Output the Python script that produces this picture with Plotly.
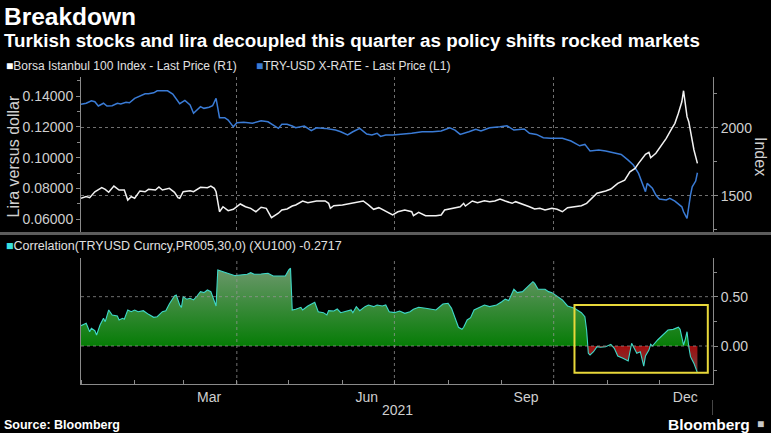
import plotly.graph_objects as go

# ---------------- data ----------------
LIRA_DATES = [
    "2021-01-01", "2021-01-04", "2021-01-07", "2021-01-09", "2021-01-11", "2021-01-14", "2021-01-16",
    "2021-01-19", "2021-01-22", "2021-01-24", "2021-01-27", "2021-01-29", "2021-02-01", "2021-02-04",
    "2021-02-07", "2021-02-09", "2021-02-12", "2021-02-14", "2021-02-20", "2021-02-23", "2021-02-25",
    "2021-02-27", "2021-03-02", "2021-03-05", "2021-03-07", "2021-03-11", "2021-03-13", "2021-03-16",
    "2021-03-18", "2021-03-20", "2021-03-22", "2021-03-25", "2021-03-27", "2021-03-30", "2021-04-01",
    "2021-04-05", "2021-04-10", "2021-04-15", "2021-04-19", "2021-04-22", "2021-04-25", "2021-04-27",
    "2021-04-30", "2021-05-03", "2021-05-05", "2021-05-10", "2021-05-14", "2021-05-17", "2021-05-22",
    "2021-05-28", "2021-05-31", "2021-06-04", "2021-06-07", "2021-06-11", "2021-06-15", "2021-06-18",
    "2021-06-21", "2021-06-23", "2021-06-26", "2021-06-30", "2021-07-05", "2021-07-11", "2021-07-17",
    "2021-07-23", "2021-07-28", "2021-08-02", "2021-08-05", "2021-08-08", "2021-08-13", "2021-08-17",
    "2021-08-20", "2021-08-25", "2021-08-31", "2021-09-04", "2021-09-08", "2021-09-14", "2021-09-17",
    "2021-09-21", "2021-09-25", "2021-09-29", "2021-10-06", "2021-10-11", "2021-10-16", "2021-10-19",
    "2021-10-22", "2021-10-27", "2021-10-31", "2021-11-05", "2021-11-09", "2021-11-13", "2021-11-16",
    "2021-11-19", "2021-11-23", "2021-11-24", "2021-11-27", "2021-11-29", "2021-12-01", "2021-12-05",
    "2021-12-07", "2021-12-10", "2021-12-14", "2021-12-15", "2021-12-17", "2021-12-19", "2021-12-20",
    "2021-12-22", "2021-12-23",
]
LIRA_VALUES = [
    0.1346, 0.1353, 0.1369, 0.1363, 0.1335, 0.1353, 0.1335,
    0.1337, 0.1353, 0.1348, 0.1359, 0.1356, 0.1385, 0.1402,
    0.1415, 0.1415, 0.1421, 0.1434, 0.1434, 0.1413, 0.1385,
    0.1350, 0.1372, 0.1342, 0.1288, 0.1331, 0.1320, 0.1327,
    0.1337, 0.1385, 0.1259, 0.1259, 0.1244, 0.1200, 0.1227,
    0.1229, 0.1223, 0.1240, 0.1233, 0.1212, 0.1190, 0.1216,
    0.1216, 0.1205, 0.1194, 0.1205, 0.1175, 0.1194, 0.1190,
    0.1179, 0.1168, 0.1147, 0.1168, 0.1190, 0.1153, 0.1147,
    0.1158, 0.1138, 0.1147, 0.1147, 0.1151, 0.1158, 0.1168,
    0.1168, 0.1173, 0.1194, 0.1179, 0.1151, 0.1168, 0.1184,
    0.1173, 0.1194, 0.1200, 0.1207, 0.1179, 0.1186, 0.1158,
    0.1151, 0.1129, 0.1126, 0.1126, 0.1108, 0.1077, 0.1086,
    0.1043, 0.1049, 0.1043, 0.1028, 0.1021, 0.0984, 0.0952,
    0.0898, 0.0779, 0.0833, 0.0801, 0.0757, 0.0731, 0.0725,
    0.0736, 0.0718, 0.0681, 0.0649, 0.0606, 0.0757, 0.0811,
    0.0848, 0.0902,
]

BIST_DATES = [
    "2021-01-01", "2021-01-04", "2021-01-06", "2021-01-09", "2021-01-13", "2021-01-15", "2021-01-17",
    "2021-01-20", "2021-01-23", "2021-01-26", "2021-01-28", "2021-01-30", "2021-02-01", "2021-02-04",
    "2021-02-07", "2021-02-09", "2021-02-13", "2021-02-15", "2021-02-17", "2021-02-21", "2021-02-24",
    "2021-02-26", "2021-02-27", "2021-03-01", "2021-03-05", "2021-03-07", "2021-03-11", "2021-03-15",
    "2021-03-17", "2021-03-19", "2021-03-20", "2021-03-22", "2021-03-24", "2021-03-27", "2021-03-30",
    "2021-04-03", "2021-04-06", "2021-04-09", "2021-04-12", "2021-04-15", "2021-04-18", "2021-04-21",
    "2021-04-25", "2021-04-27", "2021-04-30", "2021-05-03", "2021-05-05", "2021-05-09", "2021-05-12",
    "2021-05-17", "2021-05-22", "2021-05-24", "2021-05-25", "2021-05-27", "2021-06-01", "2021-06-06",
    "2021-06-09", "2021-06-13", "2021-06-16", "2021-06-19", "2021-06-22", "2021-06-26", "2021-06-30",
    "2021-07-03", "2021-07-07", "2021-07-11", "2021-07-12", "2021-07-15", "2021-07-19", "2021-07-25",
    "2021-07-28", "2021-07-30", "2021-08-04", "2021-08-08", "2021-08-10", "2021-08-11", "2021-08-15",
    "2021-08-18", "2021-08-22", "2021-08-25", "2021-08-28", "2021-08-31", "2021-09-03", "2021-09-07",
    "2021-09-09", "2021-09-13", "2021-09-17", "2021-09-20", "2021-09-23", "2021-09-26", "2021-09-30",
    "2021-10-03", "2021-10-06", "2021-10-09", "2021-10-13", "2021-10-17", "2021-10-20", "2021-10-23",
    "2021-10-26", "2021-10-31", "2021-11-03", "2021-11-07", "2021-11-11", "2021-11-14", "2021-11-17",
    "2021-11-19", "2021-11-23", "2021-11-25", "2021-11-26", "2021-11-29", "2021-12-02", "2021-12-05",
    "2021-12-08", "2021-12-10", "2021-12-12", "2021-12-13", "2021-12-14", "2021-12-15", "2021-12-16",
    "2021-12-17", "2021-12-18", "2021-12-20", "2021-12-21", "2021-12-23",
]
BIST_VALUES = [
    1481, 1493, 1485, 1529, 1559, 1547, 1525,
    1571, 1542, 1542, 1468, 1493, 1481, 1535,
    1529, 1547, 1542, 1564, 1542, 1554, 1525,
    1485, 1481, 1529, 1537, 1529, 1562, 1559,
    1571, 1554, 1529, 1382, 1419, 1390, 1400,
    1439, 1419, 1407, 1382, 1415, 1407, 1338,
    1371, 1395, 1402, 1424, 1432, 1461, 1449,
    1461, 1461, 1444, 1407, 1426, 1432, 1444,
    1456, 1461, 1432, 1400, 1412, 1387, 1358,
    1382, 1395, 1382, 1353, 1378, 1353, 1353,
    1358, 1395, 1407, 1419, 1444, 1424, 1461,
    1449, 1463, 1456, 1461, 1476, 1461, 1444,
    1456, 1439, 1419, 1402, 1407, 1395, 1407,
    1400, 1382, 1412, 1419, 1426, 1444, 1481,
    1518, 1535, 1549, 1591, 1615, 1676, 1701,
    1738, 1804, 1819, 1779, 1812, 1868, 1922,
    1990, 2032, 2106, 2154, 2191, 2272, 2174,
    2081, 2044, 1910, 1836, 1738,
]

CORR_DATES = [
    "2021-01-01", "2021-01-04", "2021-01-06", "2021-01-07", "2021-01-09", "2021-01-10", "2021-01-12",
    "2021-01-14", "2021-01-15", "2021-01-17", "2021-01-19", "2021-01-22", "2021-01-23", "2021-01-25",
    "2021-01-26", "2021-01-28", "2021-01-30", "2021-02-01", "2021-02-03", "2021-02-06", "2021-02-09",
    "2021-02-12", "2021-02-14", "2021-02-17", "2021-02-19", "2021-02-21", "2021-02-24", "2021-02-25",
    "2021-02-27", "2021-02-28", "2021-03-01", "2021-03-03", "2021-03-05", "2021-03-07", "2021-03-09",
    "2021-03-11", "2021-03-13", "2021-03-15", "2021-03-17", "2021-03-19", "2021-03-20", "2021-03-21",
    "2021-03-24", "2021-03-28", "2021-03-31", "2021-04-03", "2021-04-07", "2021-04-09", "2021-04-11",
    "2021-04-15", "2021-04-19", "2021-04-22", "2021-04-25", "2021-04-29", "2021-05-01", "2021-05-02",
    "2021-05-03", "2021-05-05", "2021-05-08", "2021-05-09", "2021-05-12", "2021-05-16", "2021-05-18",
    "2021-05-21", "2021-05-23", "2021-05-24", "2021-05-27", "2021-05-29", "2021-05-31", "2021-06-03",
    "2021-06-06", "2021-06-07", "2021-06-09", "2021-06-11", "2021-06-14", "2021-06-16", "2021-06-19",
    "2021-06-21", "2021-06-24", "2021-06-26", "2021-06-28", "2021-07-01", "2021-07-04", "2021-07-07",
    "2021-07-10", "2021-07-12", "2021-07-15", "2021-07-19", "2021-07-25", "2021-07-29", "2021-08-01",
    "2021-08-03", "2021-08-05", "2021-08-07", "2021-08-09", "2021-08-10", "2021-08-12", "2021-08-14",
    "2021-08-16", "2021-08-19", "2021-08-22", "2021-08-25", "2021-08-29", "2021-09-01", "2021-09-03",
    "2021-09-05", "2021-09-08", "2021-09-10", "2021-09-13", "2021-09-16", "2021-09-19", "2021-09-20",
    "2021-09-22", "2021-09-26", "2021-09-28", "2021-09-30", "2021-10-03", "2021-10-06", "2021-10-09",
    "2021-10-13", "2021-10-17", "2021-10-19", "2021-10-20", "2021-10-21", "2021-10-22", "2021-10-24",
    "2021-10-26", "2021-10-28", "2021-10-31", "2021-11-03", "2021-11-05", "2021-11-07", "2021-11-10",
    "2021-11-13", "2021-11-15", "2021-11-17", "2021-11-18", "2021-11-20", "2021-11-22", "2021-11-23",
    "2021-11-25", "2021-11-26", "2021-11-27", "2021-11-30", "2021-12-03", "2021-12-06", "2021-12-09",
    "2021-12-12", "2021-12-13", "2021-12-15", "2021-12-16", "2021-12-17", "2021-12-18", "2021-12-19",
    "2021-12-21", "2021-12-23",
]
CORR_VALUES = [
    0.206, 0.230, 0.145, 0.180, 0.155, 0.112, 0.213,
    0.281, 0.247, 0.365, 0.314, 0.304, 0.264, 0.281,
    0.271, 0.365, 0.348, 0.365, 0.348, 0.358, 0.321,
    0.291, 0.297, 0.348, 0.358, 0.426, 0.507, 0.517,
    0.416, 0.392, 0.500, 0.474, 0.484, 0.467, 0.507,
    0.551, 0.541, 0.568, 0.551, 0.467, 0.406, 0.771,
    0.754, 0.730, 0.713, 0.720, 0.727, 0.743, 0.727,
    0.730, 0.737, 0.710, 0.710, 0.710, 0.771, 0.788,
    0.365, 0.372, 0.392, 0.365, 0.406, 0.443, 0.348,
    0.338, 0.314, 0.358, 0.355, 0.375, 0.338, 0.348,
    0.365, 0.338, 0.399, 0.358, 0.399, 0.416, 0.399,
    0.416, 0.406, 0.416, 0.348, 0.338, 0.355, 0.331,
    0.348, 0.372, 0.392, 0.382, 0.365, 0.426, 0.433,
    0.382, 0.281, 0.190, 0.169, 0.190, 0.264, 0.287,
    0.365, 0.392, 0.416, 0.399, 0.416, 0.449, 0.475,
    0.460, 0.575, 0.541, 0.551, 0.601, 0.652, 0.635,
    0.575, 0.575, 0.551, 0.541, 0.500, 0.467, 0.406,
    0.382, 0.338, 0.297, 0.162, -0.074, -0.091, -0.058,
    -0.007, -0.013, -0.007, 0.017, -0.023, -0.101, -0.125,
    -0.152, 0.027, -0.041, -0.074, -0.058, -0.203, -0.101,
    -0.041, 0.017, 0.000, 0.061, 0.112, 0.162, 0.169,
    0.190, 0.169, 0.010, 0.068, 0.145, -0.007, -0.108,
    -0.176, -0.2717,
]

X_RANGE = ["2021-01-01", "2022-01-01"]
QUARTER_STARTS = ["2021-04-01", "2021-07-01", "2021-10-01"]
MONTH_LABEL_DATES = ["2021-03-16", "2021-06-15", "2021-09-15", "2021-12-16"]
MONTH_LABELS = ["Mar", "Jun", "Sep", "Dec"]
YEAR_LABEL = "2021"
CORR_GRID_VALUES = [0.0, 0.5]
HIGHLIGHT_X = ["2021-10-13", "2021-12-29"]
HIGHLIGHT_Y = [-0.272, 0.415]

TITLE = "Breakdown"
SUBTITLE = "Turkish stocks and lira decoupled this quarter as policy shifts rocked markets"
LEGEND_BIST = "Borsa Istanbul 100 Index - Last Price (R1)"
LEGEND_LIRA = "TRY-USD X-RATE - Last Price (L1)"
LEGEND_CORR = "Correlation(TRYUSD Curncy,PR005,30,0) (XU100) -0.2717"

# ---------------- style ----------------
BG = "#000000"
FONT = "Liberation Sans"
TICK_COLOR = "#cfcfcf"
AXIS_COLOR = "#8a8a8a"
GRID_COLOR = "rgba(150,150,150,0.75)"
LIRA_COLOR = "#3a7bd5"
BIST_COLOR = "#f2f2f2"
CORR_LINE = "#3fd8c8"

W, H = 771, 433
L, R, T, B = 81, 713, 77, 384
PW, PH = R - L, B - T


def px(x):
    return (x - L) / PW


def py(y):
    return (B - y) / PH


fig = go.Figure()

fig.add_trace(go.Scatter(
    x=LIRA_DATES, y=LIRA_VALUES, mode="lines", xaxis="x", yaxis="y",
    line=dict(color=LIRA_COLOR, width=1.5), showlegend=False, hoverinfo="skip"))
fig.add_trace(go.Scatter(
    x=BIST_DATES, y=BIST_VALUES, mode="lines", xaxis="x", yaxis="y2",
    line=dict(color=BIST_COLOR, width=1.5), showlegend=False, hoverinfo="skip"))

g_start, g_stop = -0.3, 0.8
z0 = (0 - g_start) / (g_stop - g_start)
fig.add_trace(go.Scatter(
    x=CORR_DATES, y=CORR_VALUES, mode="lines", xaxis="x2", yaxis="y3",
    fill="tozeroy",
    fillgradient=dict(type="vertical", start=g_start, stop=g_stop,
                      colorscale=[[0, "#6a4a4a"], [z0, "#a00c0c"],
                                  [z0, "#067c06"], [1, "#6d986d"]]),
    line=dict(color=CORR_LINE, width=1.1), showlegend=False, hoverinfo="skip"))

top_dom = [py(232), 1.0]
bot_dom = [0.0, py(258)]

fig.update_layout(
    width=W, height=H,
    paper_bgcolor=BG, plot_bgcolor=BG,
    margin=dict(l=L, r=W - R, t=T, b=H - B, pad=0, autoexpand=False),
    font=dict(family=FONT, color=TICK_COLOR, size=14),
    showlegend=False,
    xaxis=dict(domain=[0, 1], anchor="y", range=X_RANGE, type="date", automargin=False,
               tickmode="array", tickvals=QUARTER_STARTS, showticklabels=False,
               ticks="", showgrid=True, gridcolor=GRID_COLOR, griddash="dot",
               gridwidth=1, showline=False, zeroline=False),
    yaxis=dict(domain=top_dom, anchor="x", range=[0.05176, 0.15234], side="left", automargin=False,
               tick0=0, dtick=0.02, tickformat=".5f", ticks="outside", ticklen=4,
               tickcolor=AXIS_COLOR, showgrid=False, zeroline=False,
               showline=True, linecolor=AXIS_COLOR, linewidth=1,
               minor=dict(dtick=0.01, ticks="outside", ticklen=3, tickcolor=AXIS_COLOR),
               tickfont=dict(size=14, color=TICK_COLOR)),
    yaxis2=dict(overlaying="y", anchor="x", side="right", range=[1233, 2373], automargin=False,
                tick0=0, dtick=500, ticks="outside", ticklen=4, tickcolor=AXIS_COLOR,
                showgrid=True, gridcolor=GRID_COLOR, griddash="dot", gridwidth=1,
                zeroline=False, showline=True, linecolor=AXIS_COLOR, linewidth=1,
                minor=dict(dtick=250, ticks="outside", ticklen=3, tickcolor=AXIS_COLOR),
                tickfont=dict(size=14, color=TICK_COLOR)),
    xaxis2=dict(domain=[0, 1], anchor="y3", range=X_RANGE, type="date", automargin=False,
                tickmode="array", tickvals=MONTH_LABEL_DATES, ticktext=MONTH_LABELS,
                ticks="", showgrid=False, zeroline=False,
                showline=True, linecolor=AXIS_COLOR, linewidth=1,
                minor=dict(tick0="2021-01-01", dtick="M1", ticks="inside", ticklen=4,
                           tickcolor=AXIS_COLOR, showgrid=False),
                tickfont=dict(size=14, color=TICK_COLOR)),
    yaxis3=dict(domain=bot_dom, anchor="x2", side="right", range=[-0.385, 0.892], automargin=False,
                tick0=0, dtick=0.5, tickformat=".2f", ticks="outside", ticklen=4,
                tickcolor=AXIS_COLOR, showgrid=False, zeroline=False,
                showline=True, mirror=True, linecolor=AXIS_COLOR, linewidth=1,
                minor=dict(dtick=0.25, ticks="outside", ticklen=3, tickcolor=AXIS_COLOR),
                tickfont=dict(size=14, color=TICK_COLOR)),
)

shapes = []
# gridlines in the correlation panel, drawn above the fill
for q in QUARTER_STARTS:
    shapes.append(dict(type="line", xref="x2", yref="y3 domain", x0=q, x1=q, y0=0, y1=1,
                       line=dict(color=GRID_COLOR, width=1, dash="dot"), layer="above"))
for v in CORR_GRID_VALUES:
    shapes.append(dict(type="line", xref="x2 domain", yref="y3", x0=0, x1=1, y0=v, y1=v,
                       line=dict(color=GRID_COLOR, width=1, dash="dot"), layer="above"))
# highlight box
shapes.append(dict(type="rect", xref="x2", yref="y3",
                   x0=HIGHLIGHT_X[0], x1=HIGHLIGHT_X[1], y0=HIGHLIGHT_Y[0], y1=HIGHLIGHT_Y[1],
                   line=dict(color="#e8d83a", width=2), fillcolor="rgba(0,0,0,0)", layer="above"))
# panel separator bar
shapes.append(dict(type="line", xref="paper", yref="paper", x0=px(0), x1=px(W), y0=py(233.5), y1=py(233.5),
                   line=dict(color="#5c5c5c", width=3)))
# year boundary marker under the axis
shapes.append(dict(type="line", xref="x2", yref="paper", x0=X_RANGE[1], x1=X_RANGE[1],
                   y0=py(400), y1=py(415), line=dict(color=AXIS_COLOR, width=1)))
fig.update_layout(shapes=shapes)

ann = []


def text(x, y, s, size, color="#e8e8e8", bold=False, xanchor="left", angle=0):
    if bold:
        s = "<b>" + s + "</b>"
    ann.append(dict(x=px(x), y=py(y), xref="paper", yref="paper", text=s, showarrow=False,
                    xanchor=xanchor, yanchor="middle", textangle=angle,
                    font=dict(family=FONT, size=size, color=color)))


text(2, 17, TITLE, 24.5, "#ffffff", bold=True)
text(2, 41, SUBTITLE, 18.8, "#ffffff", bold=True)
text(4, 66, "<span style='color:#ffffff'>■</span>" + LEGEND_BIST, 12, "#e0e0e0")
text(254, 66, "<span style='color:%s'>■</span>" % LIRA_COLOR + LEGEND_LIRA, 12, "#e0e0e0")
text(4, 246, "<span style='color:#38e0e0'>■</span>" + LEGEND_CORR, 12.5, "#e0e0e0")
text(12.5, 156, "Lira versus dollar", 16, TICK_COLOR, xanchor="center", angle=-90)
text(761, 156, "Index", 16, TICK_COLOR, xanchor="center", angle=90)
text(397, 410, YEAR_LABEL, 14, TICK_COLOR, xanchor="center")
text(2, 425, "Source: Bloomberg", 12.5, "#ffffff", bold=True)
text(752, 424, "Bloomberg", 15.5, "#ffffff", bold=True, xanchor="right")
text(755, 424, "<span style='color:#c8c8c8'>■</span>", 12, "#c8c8c8")
fig.update_layout(annotations=ann)

fig.write_html("out.html", config={"displayModeBar": False},
               post_script="document.body.style.margin='0';document.body.style.background='#000';")
